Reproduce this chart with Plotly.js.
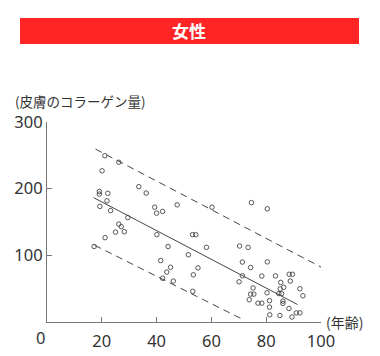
<!DOCTYPE html>
<html>
<head>
<meta charset="utf-8">
<script src="https://cdn.plot.ly/plotly-3.0.1.min.js"></script>
<style>html,body{margin:0;padding:0;background:#fff;}#chart{width:380px;height:356px;}</style>
</head>
<body>
<div id="chart"></div>
<script>
// Age (years) of each subject
var ages = [17.2,21.2,25.0,28.2,26.2,27.1,29.5,19.3,23.2,21.9,19.1,19.1,22.2,20.1,21.1,26.2,33.5,36.2,39.3,40.0,
  42.2,47.5,60.2,74.6,80.4,40.1,44.2,41.5,45.1,43.7,42.2,46.1,53.1,54.3,58.2,51.6,55.1,53.4,53.2,70.3,
  73.4,71.3,74.3,80.4,71.3,70.1,78.4,75.2,74.3,75.5,73.8,77.0,78.4,80.3,81.2,81.2,81.3,83.4,88.4,89.6,
  88.8,85.3,86.4,85.1,84.6,85.6,92.3,93.4,86.1,86.1,88.3,91.0,92.3,85.0,89.4];
// Skin collagen amount
var collagen = [113.3,126.5,134.8,135.4,146.8,143.0,156.6,173.4,167.1,181.7,195.7,191.9,193.0,226.8,249.4,239.6,203.0,193.4,172.2,163.3,
  165.9,175.7,172.2,179.1,169.7,131.0,113.3,92.2,82.1,74.9,65.6,61.4,131.0,131.0,112.0,100.9,81.2,70.8,46.0,114.0,
  111.9,89.9,81.7,90.2,69.3,60.3,68.9,51.1,41.8,41.8,33.4,28.3,28.3,43.8,32.0,22.3,10.8,69.2,71.6,71.6,
  61.4,59.4,52.0,49.6,42.6,42.6,49.9,39.3,31.3,27.8,20.3,13.7,13.7,9.8,7.5];
// Regression line and band (endpoints)
var fitX = [17.0, 91.4];
var fitY = [186.6, 26.3];
var upperX = [17.7, 100.0];
var upperY = [259.4, 82.4];
var lowerX = [17.4, 71.5];
var lowerY = [115.1, 3.8];
// Tick labels
var xTicks = [20, 40, 60, 80, 100];
var yTicks = [100, 200, 300];
var titleText = '女性';
var yTitle = '(皮膚のコラーゲン量)';
var xTitle = '(年齢)';

var ink = '#444';
var traces = [
  {x: upperX, y: upperY, mode: 'lines', line: {color: ink, width: 1, dash: '7px,5px'}, hoverinfo: 'skip'},
  {x: lowerX, y: lowerY, mode: 'lines', line: {color: ink, width: 1, dash: '7px,5px'}, hoverinfo: 'skip'},
  {x: fitX, y: fitY, mode: 'lines', line: {color: ink, width: 1}, hoverinfo: 'skip'},
  {x: ages, y: collagen, mode: 'markers', marker: {symbol: 'circle-open', size: 4.5, color: ink, line: {width: 0.9, color: ink}}, cliponaxis: false}
];

var tickFont = {family: 'Noto Sans, sans-serif', size: 16.5, color: '#333'};
var cjk = 'Noto Sans CJK JP, sans-serif';

var layout = {
  width: 380, height: 356,
  margin: {l: 47, r: 59, t: 122, b: 34},
  paper_bgcolor: '#fff', plot_bgcolor: '#fff',
  showlegend: false,
  xaxis: {range: [0, 100], tickvals: xTicks, ticks: 'inside', ticklen: 5, tickcolor: '#777',
    showline: true, linecolor: '#777', linewidth: 1, showgrid: false, zeroline: false,
    tickfont: tickFont, ticklabelstandoff: 4, fixedrange: true},
  yaxis: {range: [0, 300], tickvals: yTicks, ticks: 'inside', ticklen: 5, tickcolor: '#777',
    showline: true, linecolor: '#777', linewidth: 1, showgrid: false, zeroline: false,
    tickfont: tickFont, fixedrange: true},
  shapes: [
    {type: 'rect', xref: 'paper', yref: 'paper', x0: -0.0985, x1: 1.1387, y0: 1.39, y1: 1.52,
      fillcolor: '#ff2525', line: {width: 0}}
  ],
  annotations: [
    {text: '<b>' + titleText + '</b>', xref: 'paper', yref: 'paper', x: 0.52, y: 1.455,
      xanchor: 'center', yanchor: 'middle', showarrow: false, font: {family: cjk, size: 17, color: '#fff'}},
    {text: yTitle, xref: 'paper', yref: 'paper', x: -0.124, y: 1.103, xanchor: 'left', yanchor: 'middle',
      showarrow: false, font: {family: cjk, size: 13.5, color: '#333'}},
    {text: xTitle, xref: 'paper', yref: 'paper', x: 1.0858, y: 0.0, xanchor: 'center', yanchor: 'middle',
      showarrow: false, font: {family: cjk, size: 14, color: '#333'}},
    {text: '0', xref: 'paper', yref: 'paper', x: -0.0255, y: -0.075, xanchor: 'center', yanchor: 'middle',
      showarrow: false, font: tickFont}
  ]
};

Plotly.newPlot('chart', traces, layout, {staticPlot: true, displayModeBar: false});
</script>
</body>
</html>
